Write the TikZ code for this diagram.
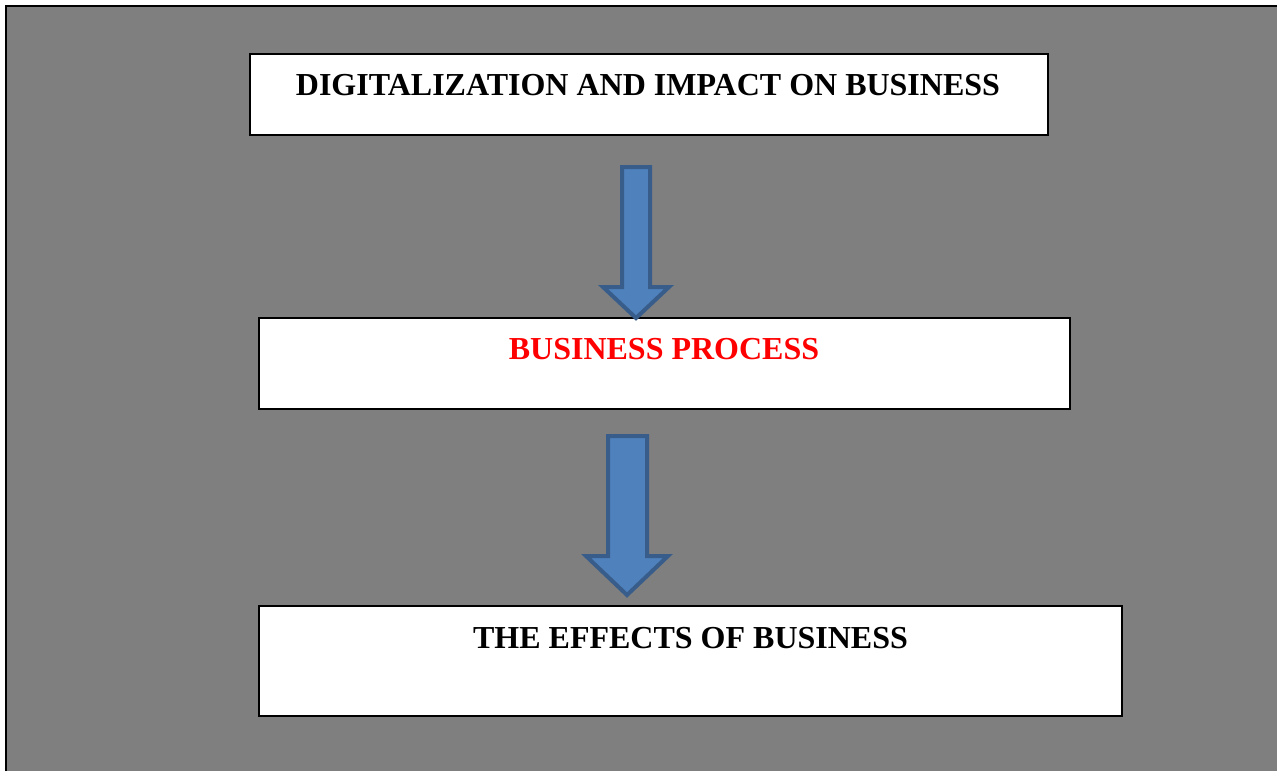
\documentclass[tikz,border=0pt]{standalone}
\usepackage{fontspec}
\setmainfont{Liberation Serif}
\definecolor{bggray}{HTML}{7F7F7F}
\definecolor{arrfill}{HTML}{4F81BD}
\definecolor{arrline}{HTML}{385D8A}
\begin{document}
\begin{tikzpicture}[x=0.75pt,y=-0.75pt,
  box/.style={draw=black,line width=1.2pt,fill=white},
  lbl/.style={font=\fontsize{24}{28}\selectfont\bfseries,inner sep=0pt,anchor=base},
  blockarrow/.style={draw=arrline,line width=3pt,fill=arrfill,line join=miter}]
\useasboundingbox (0,0) rectangle (1277,771);
\fill[white] (0,0) rectangle (1277,771);
\fill[bggray] (6,6) rectangle (1277,771);
\draw[line width=1.5pt] (6,771) -- (6,6) -- (1277,6);
% boxes
\draw[box] (250,54) rectangle (1048,135);
\draw[box] (259,318) rectangle (1070,409);
\draw[box] (259,606) rectangle (1122,716);
\node[lbl] (t1) at (648,95) {DIGITALIZATION AND IMPACT ON BUSINESS};
\node[lbl,text={rgb,255:red,255;green,0;blue,0}] (t2) at (664,359) {BUSINESS PROCESS};
\node[lbl] (t3) at (690.5,648) {THE EFFECTS OF BUSINESS};
% block arrows
\draw[blockarrow] (622,167) -- (650,167) -- (650,287) -- (669,287) -- (636,318) -- (603,287) -- (622,287) -- cycle;
\draw[blockarrow] (608,436) -- (647,436) -- (647,556) -- (668,556) -- (627,595) -- (586,556) -- (608,556) -- cycle;
\end{tikzpicture}
\end{document}
